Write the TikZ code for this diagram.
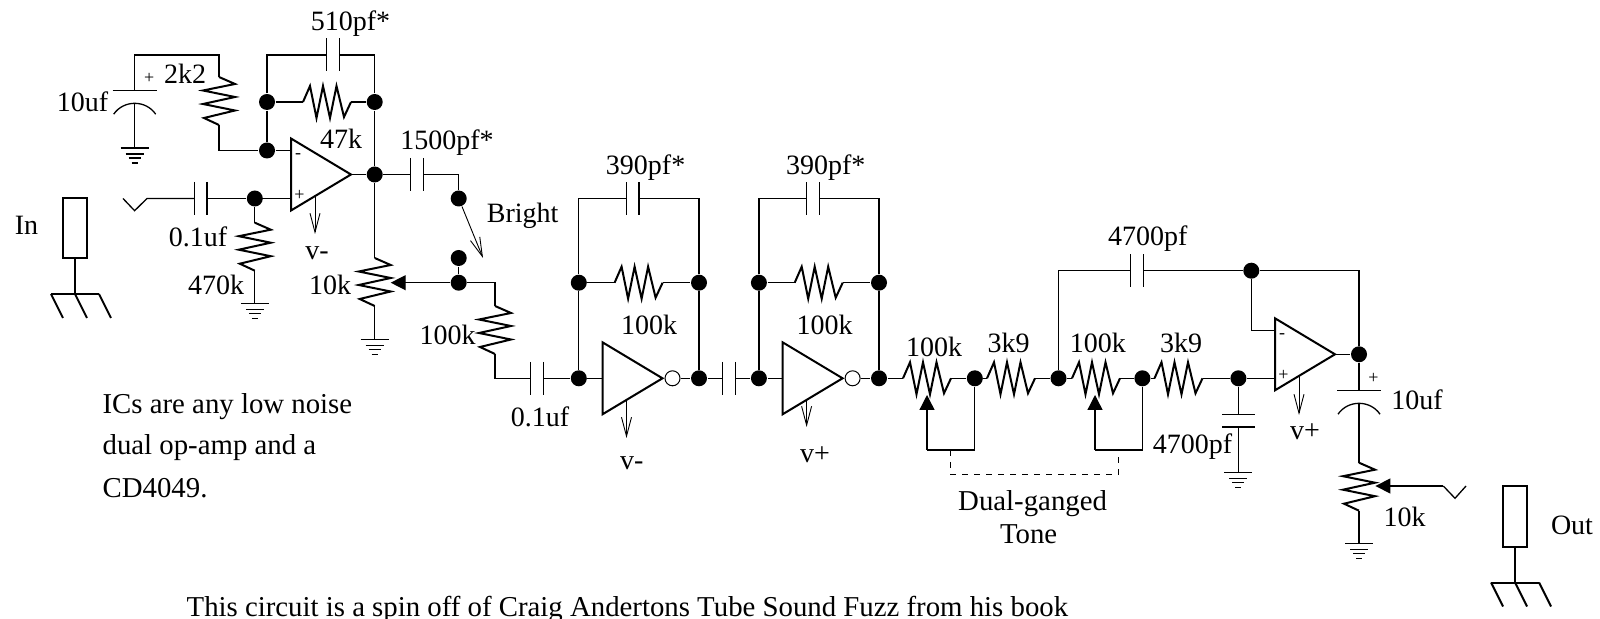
\documentclass[tikz,border=0pt]{standalone}
\usepackage{fontspec}
\setmainfont{Liberation Serif}
\usetikzlibrary{arrows.meta}

\begin{document}
\begin{tikzpicture}[x=0.5pt, y=-0.5pt, line width=0.65pt]
    \tikzstyle{every node} = [inner sep=0pt, font=\fontsize{14}{16}\selectfont]
    \tikzstyle{tag} = [anchor=base]
    \tikzstyle{para} = [anchor=base west, font=\fontsize{14.4}{16}\selectfont]
    \tikzstyle{jdot} = [circle, fill=black, minimum size=8pt]
    \tikzstyle{bubble} = [circle, draw, line width=0.5pt, fill=white, minimum size=7.5pt]
    \tikzstyle{heavy} = [line width=1pt]
    \tikzstyle{supply} = [line width=0.45pt, -{Straight Barb[length=9.5pt, width=5pt]}]
    \tikzstyle{wiper} = [-{Triangle[length=7.5pt, width=7.5pt]}]
    \tikzstyle{tiny} = [font=\fontsize{9}{10}\selectfont]
    \tikzset{
        pics/resistor/.style={code={
            \coordinate (-a) at (0, 0);
            \coordinate (-b) at (48, 0);
            \draw[heavy] (-a) -- (7, -16) -- (13.5, 16) -- (20, -16) -- (27, 16) -- (33.5, -16) -- (41, 15) -- (-b);
        }},
        pics/cap/.style={code={
            \coordinate (-a) at (-6.2, 0);
            \coordinate (-b) at (6.2, 0);
            \draw (-6.2, -16.5) -- (-6.2, 16.5);
            \draw (6.2, -16.5) -- (6.2, 16.5);
        }},
        pics/polarcap/.style={code={
            \coordinate (-a) at (0, 0);
            \coordinate (-b) at (0, 12.7);
            \draw (-22, 0) -- (22, 0);
            \draw (-21, 23.5) .. controls (-11, 9) and (11, 9) .. (21, 23.5);
            \node[tiny] (-s) at (14.5, -12.4) {+};
        }},
        pics/ground/.style={code={
            \coordinate (-t) at (0, 0);
            \draw (-14, 0) -- (14, 0);
            \draw (-9, 6) -- (9, 6);
            \draw (-6, 10) -- (6, 10);
            \draw (-3, 15) -- (3, 15);
        }},
        pics/opamp/.style={code={
            \coordinate (-m) at (0, -24);
            \coordinate (-p) at (0, 24);
            \coordinate (-o) at (60, 0);
            \coordinate (-v) at (24, 21.6);
            \draw[heavy] (0, -36) -- (60, 0) -- (0, 36) -- cycle;
            \node[tiny] (-ms) at (7, -18) {-};
            \node[tiny] (-ps) at (8.5, 20.7) {+};
        }},
        pics/inverter/.style={code={
            \coordinate (-i) at (0, 0);
            \coordinate (-o) at (78, 0);
            \coordinate (-v) at (24, 21.6);
            \draw[heavy] (0, -36) -- (60, 0) -- (0, 36) -- cycle;
            \node[bubble] (-c) at (70, 0) {};
        }},
        pics/jack/.style={code={
            \coordinate (-t) at (12, 61);
            \coordinate (-f) at (12, 96);
            \draw[heavy] (0, 0) rectangle (24, 60.5);
            \draw (-t) -- (-f);
            \draw[heavy] (-12, 96) -- (36, 96);
            \draw[heavy] (-12, 96) -- (0, 120);
            \draw[heavy] (12, 96) -- (24, 120);
            \draw[heavy] (36, 96) -- (48, 120);
        }}
    }

    \useasboundingbox (0, 0) rectangle (1600, 619);

    \pic (jackin) at (63, 198) {jack};
    \pic (jackout) at (1503, 486.5) {jack};
    \node[tag] (lin) at (26.5, 235) {In};
    \node[tag] (lout) at (1572, 535) {Out};

    \node[jdot] (fbl) at (267, 102) {};
    \node[jdot] (fbr) at (374.7, 102) {};
    \node[jdot] (minus) at (267, 150.5) {};
    \node[jdot] (plus) at (254.8, 198.5) {};
    \node[jdot] (opout) at (374.7, 174.5) {};
    \node[jdot] (swa) at (458.7, 198.5) {};
    \node[jdot] (swb) at (458.7, 258) {};
    \node[jdot] (wipe) at (458.7, 282.7) {};
    \node[jdot] (alin) at (578.8, 378.3) {};
    \node[jdot] (alfb) at (578.8, 282.7) {};
    \node[jdot] (aout) at (699, 378.3) {};
    \node[jdot] (aofb) at (699, 282.7) {};
    \node[jdot] (blin) at (758.9, 378.3) {};
    \node[jdot] (blfb) at (758.9, 282.7) {};
    \node[jdot] (bout) at (879, 378.3) {};
    \node[jdot] (bofb) at (879, 282.7) {};
    \node[jdot] (tonea) at (974.8, 378.3) {};
    \node[jdot] (toneb) at (1058.5, 378.3) {};
    \node[jdot] (tonec) at (1142.4, 378.3) {};
    \node[jdot] (toned) at (1238.4, 378.3) {};
    \node[jdot] (fbtop) at (1251.3, 270.7) {};
    \node[jdot] (lastout) at (1359, 354.3) {};

    \pic (cgnd) at (134.7, 90.7) {polarcap};
    \pic (ggnd) at (134.7, 148) {ground};
    \pic[rotate=-90] (rtwo) at (219, 77) {resistor};
    \coordinate (ta) at (134.7, 55);
    \coordinate (tb) at (219, 55);
    \draw (cgnd-a) -- (ta) -- (tb) -- (rtwo-a);
    \draw (cgnd-b) -- (ggnd-t);
    \draw (rtwo-b) |- (minus);

    \pic (cfb) at (333, 55) {cap};
    \pic (rfb) at (303, 102) {resistor};
    \draw (fbl) |- (cfb-a);
    \draw (fbr) |- (cfb-b);
    \draw (fbl) -- (rfb-a);
    \draw (rfb-b) -- (fbr);
    \draw (fbl) -- (minus);
    \draw (fbr) -- (opout);

    \pic (opa) at (291, 174.5) {opamp};
    \draw (minus) -- (opa-m);
    \draw (plus) -- (opa-p);
    \draw (opa-o) -- (opout);
    \coordinate (opav) at (315, 234);
    \draw[supply] (opa-v) -- (opav);

    \coordinate (ina) at (123, 198.5);
    \coordinate (inb) at (134.6, 210.7);
    \coordinate (inc) at (147, 198.5);
    \pic (cin) at (200.8, 198.5) {cap};
    \draw (ina) -- (inb) -- (inc) -- (cin-a);
    \draw (cin-b) -- (plus);
    \pic[rotate=-90] (rin) at (254.8, 222.7) {resistor};
    \pic (gin) at (254.8, 303.3) {ground};
    \draw (plus) -- (rin-a);
    \draw (rin-b) -- (gin-t);

    \pic (cbr) at (417, 174.5) {cap};
    \draw (opout) -- (cbr-a);
    \draw (cbr-b) -| (swa);
    \coordinate (swtip) at (483, 258);
    \draw[supply] (swa) -- (swtip);
    \draw (swb) -- (wipe);

    \pic[rotate=-90] (rvol) at (374.7, 258) {resistor};
    \pic (gvol) at (374.7, 339.3) {ground};
    \coordinate (wvol) at (390.7, 282.7);
    \draw (opout) -- (rvol-a);
    \draw (rvol-b) -- (gvol-t);
    \draw[wiper] (wipe) -- (wvol);

    \pic[rotate=-90] (rser) at (495, 306) {resistor};
    \pic (cser) at (537, 378.3) {cap};
    \draw (wipe) -| (rser-a);
    \draw (rser-b) |- (cser-a);
    \draw (cser-b) -- (alin);

    \pic (inva) at (602.5, 378.3) {inverter};
    \pic (cfa) at (632.8, 198.7) {cap};
    \pic (rfa) at (614.6, 282.7) {resistor};
    \draw (alin) -- (inva-i);
    \draw (inva-c) -- (aout);
    \draw (alin) -- (alfb);
    \draw (aout) -- (aofb);
    \draw (alfb) -- (rfa-a);
    \draw (rfa-b) -- (aofb);
    \draw (alfb) |- (cfa-a);
    \draw (aofb) |- (cfa-b);
    \coordinate (invav) at (626.5, 438);
    \draw[supply] (inva-v) -- (invav);

    \pic (cab) at (729, 378.3) {cap};
    \draw (aout) -- (cab-a);
    \draw (cab-b) -- (blin);

    \pic (invb) at (782.6, 378.3) {inverter};
    \pic (cfb2) at (813, 198.7) {cap};
    \pic (rfb2) at (794.7, 282.7) {resistor};
    \draw (blin) -- (invb-i);
    \draw (invb-c) -- (bout);
    \draw (blin) -- (blfb);
    \draw (bout) -- (bofb);
    \draw (blfb) -- (rfb2-a);
    \draw (rfb2-b) -- (bofb);
    \draw (blfb) |- (cfb2-a);
    \draw (bofb) |- (cfb2-b);
    \coordinate (invbv) at (806.6, 427);
    \draw[supply] (invb-v) -- (invbv);

    \pic (rpa) at (903, 378.3) {resistor};
    \pic (rsa) at (987, 378.3) {resistor};
    \pic (rpb) at (1072, 378.3) {resistor};
    \pic (rsb) at (1154.5, 378.3) {resistor};
    \draw (bout) -- (rpa-a);
    \draw (rpa-b) -- (tonea);
    \draw (tonea) -- (rsa-a);
    \draw (rsa-b) -- (toneb);
    \draw (toneb) -- (rpb-a);
    \draw (rpb-b) -- (tonec);
    \draw (tonec) -- (rsb-a);
    \draw (rsb-b) -- (toned);

    \coordinate (wa) at (927, 395);
    \coordinate (wab) at (927, 450);
    \coordinate (wb) at (1095, 395);
    \coordinate (wbb) at (1095, 450);
    \draw[wiper] (wab) -- (wa);
    \draw[wiper] (wbb) -- (wb);
    \draw (wab) -| (tonea);
    \draw (wbb) -| (tonec);
    \coordinate (gaa) at (950.4, 450);
    \coordinate (gab) at (950.4, 474.3);
    \coordinate (gbb) at (1118.8, 474.3);
    \coordinate (gba) at (1118.8, 450);
    \draw[dashed] (gaa) -- (gab) -- (gbb) -- (gba);

    \pic (opb) at (1275, 354.3) {opamp};
    \pic (ctop) at (1137, 270.7) {cap};
    \coordinate (corner) at (1359, 270.7);
    \draw (toneb) |- (ctop-a);
    \draw (ctop-b) -- (fbtop);
    \draw (fbtop) -- (corner) -- (lastout);
    \draw (fbtop) |- (opb-m);
    \draw (toned) -- (opb-p);
    \draw (opb-o) -- (lastout);
    \coordinate (opbv) at (1299, 415);
    \draw[supply] (opb-v) -- (opbv);

    \pic[rotate=-90] (cshunt) at (1238.4, 420.8) {cap};
    \pic (gshunt) at (1238.4, 472.3) {ground};
    \draw (toned) -- (cshunt-a);
    \draw (cshunt-b) -- (gshunt-t);

    \pic (cout) at (1359, 390.7) {polarcap};
    \pic[rotate=-90] (rout) at (1359, 462.7) {resistor};
    \pic (gout) at (1359, 543.3) {ground};
    \draw (lastout) -- (cout-a);
    \draw (cout-b) -- (rout-a);
    \draw (rout-b) -- (gout-t);
    \coordinate (wout) at (1375.4, 486);
    \coordinate (outa) at (1443.3, 486);
    \coordinate (outb) at (1455, 498.3);
    \coordinate (outc) at (1466, 486);
    \draw[wiper] (outa) -- (wout);
    \draw (outa) -- (outb) -- (outc);

    \node[tag] (l510) at (350.5, 30.7) {510pf*};
    \node[tag] (l2k2) at (185, 83.3) {2k2};
    \node[tag] (l10ua) at (82.6, 111.7) {10uf};
    \node[tag] (l47k) at (341, 148.3) {47k};
    \node[tag] (l1500) at (447, 150) {1500pf*};
    \node[tag] (lbright) at (522.6, 222.7) {Bright};
    \node[tag] (l01a) at (198, 246.7) {0.1uf};
    \node[tag] (l470) at (216, 295) {470k};
    \node[tag] (lva) at (317, 259.3) {v-};
    \node[tag] (l10ka) at (330, 295) {10k};
    \node[tag] (l100a) at (447.7, 345) {100k};
    \node[tag] (l01b) at (540, 426.7) {0.1uf};
    \node[tag] (l390a) at (645.6, 175) {390pf*};
    \node[tag] (l100b) at (649, 335) {100k};
    \node[tag] (lvb) at (631.8, 469.3) {v-};
    \node[tag] (l390b) at (825.7, 175) {390pf*};
    \node[tag] (l100c) at (824.6, 335) {100k};
    \node[tag] (lvc) at (815, 462.7) {v+};
    \node[tag] (l100d) at (934, 356.7) {100k};
    \node[tag] (l3k9a) at (1008.5, 352.7) {3k9};
    \node[tag] (l100e) at (1097.8, 352.7) {100k};
    \node[tag] (l3k9b) at (1181, 352.7) {3k9};
    \node[tag] (l4700a) at (1147.8, 246) {4700pf};
    \node[tag] (l4700b) at (1192.4, 454) {4700pf};
    \node[tag] (lvd) at (1305, 440) {v+};
    \node[tag] (l10ub) at (1417, 410) {10uf};
    \node[tag] (l10kb) at (1404.5, 526.7) {10k};
    \node[tag, font=\fontsize{14.4}{16}\selectfont] (ldual) at (1032.6, 511) {Dual-ganged};
    \node[tag, font=\fontsize{14.4}{16}\selectfont] (ltone) at (1028.6, 543.3) {Tone};
    \node[para] (nic) at (102, 413.5) {ICs are any low noise};
    \node[para] (nop) at (102, 455) {dual op-amp and a};
    \node[para] (ncd) at (102, 497.5) {CD4049.};
    \node[para] (nspin) at (186, 616.5) {This circuit is a spin off of Craig Andertons Tube Sound Fuzz from his book};
\end{tikzpicture}
\end{document}
